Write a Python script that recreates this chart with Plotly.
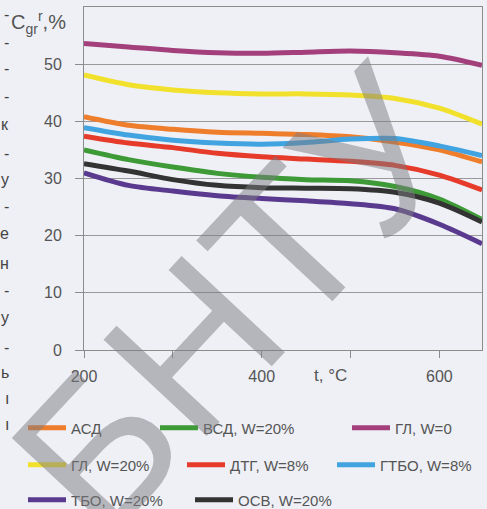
import plotly.graph_objects as go

# ---- data ----
t = [200, 250, 300, 350, 400, 450, 500, 550, 600, 648]

names = ["АСД", "ВСД, W=20%", "ГЛ, W=0", "ГЛ, W=20%",
         "ДТГ, W=8%", "ГТБО, W=8%", "ТБО, W=20%", "ОСВ, W=20%"]

asd   = [40.8, 39.3, 38.6, 38.1, 37.9, 37.7, 37.3, 36.4, 35.0, 32.9]
vsd   = [35.0, 33.3, 32.0, 30.9, 30.2, 29.8, 29.6, 28.6, 26.4, 22.8]
gl0   = [53.6, 53.0, 52.4, 52.0, 51.9, 52.1, 52.3, 52.0, 51.4, 49.8]
gl20  = [48.1, 46.4, 45.5, 45.0, 44.8, 44.8, 44.6, 44.0, 42.3, 39.5]
dtg   = [37.4, 36.2, 35.4, 34.4, 33.8, 33.4, 33.0, 32.3, 30.6, 28.0]
gtbo  = [38.9, 37.6, 36.7, 36.2, 36.0, 36.3, 36.9, 37.0, 35.7, 34.0]
tbo   = [31.0, 28.8, 27.8, 27.0, 26.5, 26.1, 25.6, 24.7, 22.0, 18.6]
osv   = [32.6, 31.3, 29.8, 28.8, 28.4, 28.3, 28.2, 27.6, 25.7, 22.4]

series = [asd, vsd, gl0, gl20, dtg, gtbo, tbo, osv]
colors = ["#ee7d2c", "#3d9a36", "#a3407c", "#f2e12c",
          "#e63b2b", "#41a3e0", "#5a3a8e", "#333333"]

x_ticks = [200, 300, 400, 500, 600]
x_ticktext = ["200", " ", "400", " ", "600"]
x_title = "t, °C"
x_title_pos = 478
y_ticks = [0, 10, 20, 30, 40, 50]

# ---- layout helpers (pixel -> paper) ----
W, H = 487, 509
L, R, T, B = 84, 5, 7, 159
pw, ph = W - L - R, H - T - B

def px(p):
    return (p - L) / pw

def py(p):
    return (H - B - p) / ph

BG = "#eef0f6"
GRID = "#999999"
TXT = "#555555"

# legend placement (line start px, row center px)
leg_pos = [(28, 428), (160, 428), (352, 428),
           (28, 465), (187, 465), (337, 465),
           (28, 500), (195, 500)]

fig = go.Figure()
for i, (nm, ys, c) in enumerate(zip(names, series, colors)):
    lg = "legend" if i == 0 else f"legend{i+1}"
    fig.add_trace(go.Scatter(
        x=t, y=ys, name=nm, mode="lines",
        line=dict(color=c, width=5, shape="spline", smoothing=0.8),
        legend=lg, hoverinfo="skip"))

legends = {}
for i, (lx, ly) in enumerate(leg_pos):
    key = "legend" if i == 0 else f"legend{i+1}"
    legends[key] = dict(
        x=px(lx - 5), y=py(ly), xanchor="left", yanchor="middle",
        orientation="h", bgcolor="rgba(0,0,0,0)", borderwidth=0,
        font=dict(family="Liberation Sans, Arial, sans-serif", size=15, color=TXT),
        itemwidth=38)

fig.update_layout(
    width=W, height=H,
    margin=dict(l=L, r=R, t=T, b=B, autoexpand=False),
    paper_bgcolor=BG, plot_bgcolor=BG,
    font=dict(family="Liberation Sans, Arial, sans-serif", size=15, color=TXT),
    showlegend=True,
    xaxis=dict(range=[200, 648], showgrid=False, zeroline=False, automargin=False,
               showline=True, mirror=True, linecolor="#8c8c8c", linewidth=1,
               ticks="outside", ticklen=7, tickcolor="#8c8c8c",
               tickvals=x_ticks, ticktext=x_ticktext, ticklabelstandoff=5,
               tickfont=dict(size=16, color=TXT)),
    xaxis2=dict(range=[200, 648], overlaying="x", anchor="y", side="bottom",
                showgrid=False, zeroline=False, showline=False, automargin=False,
                ticks="inside", ticklen=7, tickcolor="#8c8c8c",
                tickvals=x_ticks[1:], showticklabels=False),
    yaxis=dict(range=[0, 60], showgrid=True, gridcolor=GRID, gridwidth=1,
               zeroline=False, showline=True, mirror=True, automargin=False,
               linecolor="#8c8c8c", linewidth=1,
               ticks="outside", ticklen=8, tickcolor="#8c8c8c",
               tickvals=y_ticks, ticklabelstandoff=10,
               tickfont=dict(size=16, color=TXT)),
    **legends,
)

ann = [dict(text="C<sub>gr</sub><sup>r</sup>,%", xref="paper", yref="paper",
            x=px(9), y=py(22), xanchor="left", yanchor="middle",
            showarrow=False, font=dict(size=20, color=TXT)),
       dict(text=x_title, xref="x", yref="paper", x=x_title_pos, y=py(375),
            xanchor="center", yanchor="middle", showarrow=False,
            font=dict(size=17, color=TXT))]

# scan fragments of neighbouring text at the left edge
frag = [(14, "-"), (42, "-"), (68, "-"), (97, "-"), (125, "к"), (153, "-"),
        (180, "у"), (207, "-"), (233, "е"), (263, "н"), (290, "-"),
        (317, "у"), (347, "-"), (372, "ь"), (398, "ı"), (424, "ı")]
for yy, ch in frag:
    ann.append(dict(text=ch, xref="paper", yref="paper", x=px(11), y=py(yy),
                    xanchor="right", yanchor="middle", showarrow=False,
                    font=dict(size=16, color="#444444")))

# watermark
ann.append(dict(text="БНТУ", xref="paper", yref="paper",
                x=px(235), y=py(300), xanchor="center", yanchor="middle",
                showarrow=False, textangle=-47,
                font=dict(family="Liberation Sans, Arial, sans-serif",
                          size=205, color="rgba(124,124,128,0.5)")))
fig.update_layout(annotations=ann)

fig.write_html("out.html", config={"displayModeBar": False},
               post_script="document.body.style.margin='0';"
                           "document.body.style.background='%s';" % BG)
